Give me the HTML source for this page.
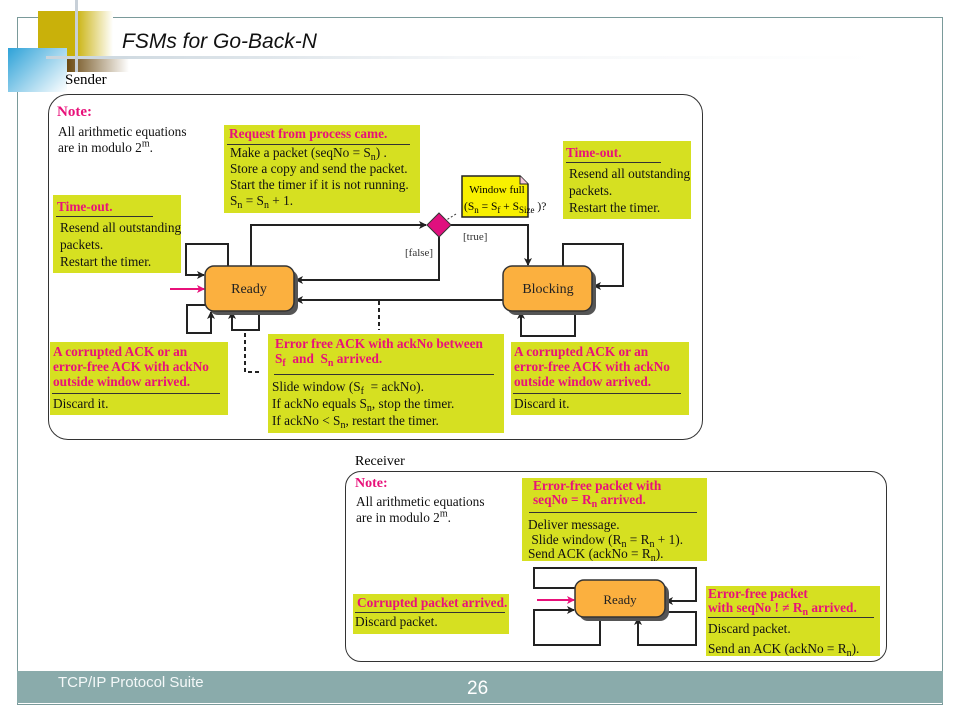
<!DOCTYPE html>
<html><head><meta charset="utf-8"><style>
body{margin:0;width:960px;height:720px;position:relative;background:#fff;overflow:hidden;font-family:"Liberation Serif",serif;}
.a{position:absolute;white-space:nowrap;}
.y{position:absolute;background:#d6e021;white-space:nowrap;overflow:visible;}
.p{color:#e8117a;font-weight:bold;}
.t{font-size:13.3px;line-height:16px;color:#111;}
.hr{border-top:1.5px solid #333;}
sub{font-size:10px;vertical-align:-3px;line-height:0;}
sup{font-size:10px;line-height:0;}
</style></head><body>
<!-- frame -->
<div class="a" style="left:17px;top:17px;width:926px;height:688px;border:1px solid #7a9a9a;border-left:1.5px solid #7a9a9a;box-sizing:border-box;"></div>
<div class="a" style="left:17px;top:671px;width:926px;height:32px;background:#8aabab;"></div>
<div class="a" style="left:58px;top:674px;font-family:'Liberation Sans',sans-serif;font-size:15px;color:#f4f8f8;">TCP/IP Protocol Suite</div>
<div class="a" style="left:467px;top:678px;font-family:'Liberation Sans',sans-serif;font-size:19px;color:#fff;">26</div>
<!-- deco -->
<div class="a" style="left:38px;top:11px;width:75px;height:46px;background:linear-gradient(90deg,#c9b10a 0,#c9b10a 50%,#fff 100%);"></div>
<div class="a" style="left:67px;top:57px;width:62px;height:15px;background:linear-gradient(90deg,#6b4a12,#fff);"></div>
<div class="a" style="left:8px;top:48px;width:59px;height:44px;background:linear-gradient(135deg,#2ea2d8,#fff);"></div>
<div class="a" style="left:46px;top:56px;width:830px;height:3px;background:linear-gradient(90deg,#c8d4dc,#f4f6f8,#fff);"></div>
<div class="a" style="left:75px;top:0;width:3px;height:72px;background:#c8d0d8;"></div>
<div class="a" style="left:122px;top:30px;font-family:'Liberation Sans',sans-serif;font-style:italic;font-size:21px;color:#111;">FSMs for Go-Back-N</div>
<!-- sender -->
<div class="a" style="left:65px;top:72px;font-size:15px;">Sender</div>
<div class="a" style="left:48px;top:94px;width:655px;height:346px;border:1.5px solid #333;border-radius:20px;box-sizing:border-box;"></div>
<div class="a p" style="left:57px;top:104px;font-size:15px;">Note:</div>
<div class="a t" style="left:58px;top:124px;">All arithmetic equations<br>are in modulo 2<sup>m</sup>.</div>
<div class="y t" style="left:224px;top:125px;width:196px;height:88px;"><div class="p" style="margin:1px 0 0 5px;">Request from process came.</div><div class="hr" style="margin:2px 10px 0 3px;"></div><div style="margin-left:6px;">Make a packet (seqNo = S<sub>n</sub>) .<br>Store a copy and send the packet.<br>Start the timer if it is not running.<br>S<sub>n</sub> = S<sub>n</sub> + 1.</div></div>
<div class="y t" style="left:53px;top:195px;width:128px;height:78px;"><div class="p" style="margin:4px 0 0 4px;">Time-out.</div><div class="hr" style="margin:1px 28px 0 3px;"></div><div style="margin:2px 0 0 7px;line-height:17px;">Resend all outstanding<br>packets.<br>Restart the timer.</div></div>
<div class="y t" style="left:563px;top:141px;width:128px;height:78px;"><div class="p" style="margin:4px 0 0 3px;">Time-out.</div><div class="hr" style="margin:1px 30px 0 3px;"></div><div style="margin:2px 0 0 6px;line-height:17px;">Resend all outstanding<br>packets.<br>Restart the timer.</div></div>
<div class="y t" style="left:50px;top:342px;width:178px;height:73px;"><div class="p" style="margin:2px 0 0 3px;line-height:15px;">A corrupted ACK or an<br>error-free ACK with ackNo<br>outside window arrived.</div><div class="hr" style="margin:4px 8px 0 2px;"></div><div style="margin:2px 0 0 3px;">Discard it.</div></div>
<div class="y t" style="left:511px;top:342px;width:178px;height:73px;"><div class="p" style="margin:2px 0 0 3px;line-height:15px;">A corrupted ACK or an<br>error-free ACK with ackNo<br>outside window arrived.</div><div class="hr" style="margin:4px 8px 0 2px;"></div><div style="margin:2px 0 0 3px;">Discard it.</div></div>
<div class="y t" style="left:268px;top:334px;width:236px;height:99px;"><div class="p" style="margin:2px 0 0 7px;line-height:15px;">Error free ACK with ackNo between<br>S<sub>f</sub>&nbsp; and&nbsp; S<sub>n</sub> arrived.</div><div class="hr" style="margin:8px 10px 0 6px;"></div><div style="margin:3px 0 0 4px;line-height:17px;">Slide window (S<sub>f</sub> &nbsp;= ackNo).<br>If ackNo equals S<sub>n</sub>, stop the timer.<br>If ackNo &lt; S<sub>n</sub>, restart the timer.</div></div>
<!-- receiver -->
<div class="a" style="left:355px;top:454px;font-size:14px;">Receiver</div>
<div class="a" style="left:345px;top:471px;width:542px;height:191px;border:1.5px solid #333;border-radius:16px;box-sizing:border-box;"></div>
<div class="a p" style="left:355px;top:476px;font-size:14px;">Note:</div>
<div class="a t" style="left:356px;top:494px;">All arithmetic equations<br>are in modulo 2<sup>m</sup>.</div>
<div class="y t" style="left:522px;top:478px;width:185px;height:83px;"><div class="p" style="margin:1px 0 0 11px;line-height:14px;">Error-free packet with<br>seqNo = R<sub>n</sub> arrived.</div><div class="hr" style="margin:5px 10px 0 7px;"></div><div style="margin:5px 0 0 6px;line-height:14.5px;">Deliver message.<br>&nbsp;Slide window (R<sub>n</sub> = R<sub>n</sub> + 1).<br>Send ACK (ackNo = R<sub>n</sub>).</div></div>
<div class="y t" style="left:353px;top:594px;width:156px;height:40px;"><div class="p" style="margin:1px 0 0 4px;">Corrupted packet arrived.</div><div class="hr" style="margin:1px 4px 0 2px;"></div><div style="margin:1px 0 0 2px;">Discard packet.</div></div>
<div class="y t" style="left:706px;top:586px;width:174px;height:70px;"><div class="p" style="margin:1px 0 0 2px;line-height:14px;">Error-free packet<br>with seqNo ! ≠ R<sub>n</sub> arrived.</div><div class="hr" style="margin:2px 6px 0 2px;"></div><div style="margin:1px 0 0 2px;line-height:20px;">Discard packet.<br>Send an ACK (ackNo = R<sub>n</sub>).</div></div>
<!-- diagram -->
<svg class="a" style="left:0;top:0" width="960" height="720" viewBox="0 0 960 720">
<defs><marker id="ar" markerWidth="8" markerHeight="8" refX="7" refY="4" orient="auto" markerUnits="userSpaceOnUse"><path d="M0,0 L8,4 L0,8 L2,4z" fill="#222"/></marker>
<marker id="pr" markerWidth="8" markerHeight="8" refX="7" refY="4" orient="auto" markerUnits="userSpaceOnUse"><path d="M0,0 L8,4 L0,8 L2,4z" fill="#e8117a"/></marker></defs>
<g fill="none" stroke="#222" stroke-width="2">
<path d="M251,266 V225 H426" marker-end="url(#ar)"/>
<path d="M451,225 H528 V265" marker-end="url(#ar)"/>
<path d="M439,237 V280 H296" marker-end="url(#ar)"/>
<path d="M503,300 H296" marker-end="url(#ar)"/>
<path d="M228,266 V244 H186 V275 H204" marker-end="url(#ar)"/>
<path d="M205,305 H187 V333 H211 V312" marker-end="url(#ar)"/>
<path d="M259,311 V330 H232 V312" marker-end="url(#ar)"/>
<path d="M563,266 V244 H623 V286 H594" marker-end="url(#ar)"/>
<path d="M575,311 V336 H521 V312" marker-end="url(#ar)"/>
<path d="M575,588 H534 V568 H696 V601 H666" marker-end="url(#ar)"/>
<path d="M600,617 V645 H534 V610 H574" marker-end="url(#ar)"/>
<path d="M665,612 H696 V645 H638 V618" marker-end="url(#ar)"/>
</g>
<g stroke="#222" stroke-width="2" stroke-dasharray="4,3" fill="none">
<path d="M379,301 V330"/><path d="M245,333 V372 H262"/>
</g>
<path d="M456,214 L440,224" stroke="#333" stroke-dasharray="2,2"/>
<path d="M170,289 H204" stroke="#e8117a" stroke-width="2" marker-end="url(#pr)"/>
<path d="M537,600 H574" stroke="#e8117a" stroke-width="2" marker-end="url(#pr)"/>
<path d="M439,213 L451,225 L439,237 L427,225z" fill="#e0107e" stroke="#333"/>
<path d="M462,176 H520 L528,184 V217 H462z" fill="#f8f000" stroke="#222" stroke-width="1.5"/>
<path d="M520,176 V184 H528" fill="#f4c8d8" stroke="#222"/>
<text x="497" y="193" font-size="11" text-anchor="middle" font-family="Liberation Serif">Window full</text>
<text x="464" y="210" font-size="11.5" font-family="Liberation Serif">(S<tspan font-size="9" dy="3">n</tspan><tspan dy="-3"> = S</tspan><tspan font-size="9" dy="3">f</tspan><tspan dy="-3"> + S</tspan><tspan font-size="9" dy="3">Size</tspan><tspan dy="-3"> )?</tspan></text>
<text x="463" y="240" font-size="11" font-family="Liberation Serif" fill="#333">[true]</text>
<text x="405" y="256" font-size="11" font-family="Liberation Serif" fill="#333">[false]</text>
<g fill="#555"><rect x="209" y="270" width="89" height="45" rx="9"/><rect x="507" y="270" width="89" height="45" rx="9"/><rect x="579" y="584" width="90" height="37" rx="9"/></g>
<g fill="#fbb03f" stroke="#333" stroke-width="1.5"><rect x="205" y="266" width="89" height="45" rx="9"/><rect x="503" y="266" width="89" height="45" rx="9"/><rect x="575" y="580" width="90" height="37" rx="9"/></g>
<g font-family="Liberation Serif" font-size="14" text-anchor="middle" fill="#222"><text x="249" y="293">Ready</text><text x="548" y="293">Blocking</text><text x="620" y="604" font-size="13">Ready</text></g>
</svg>
</body></html>
